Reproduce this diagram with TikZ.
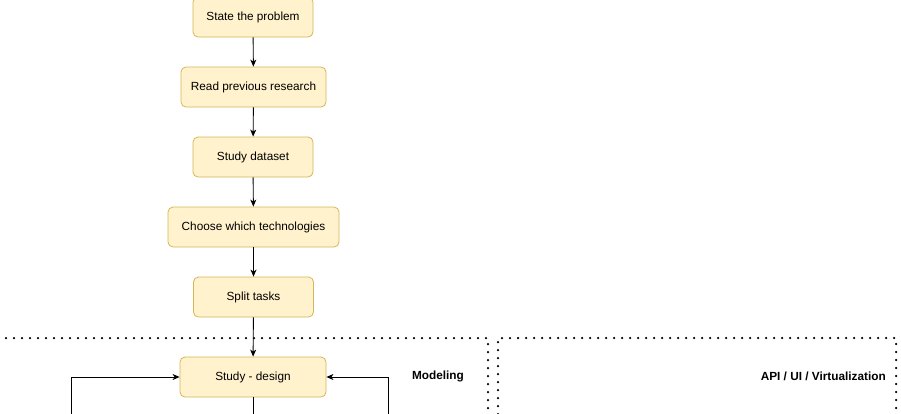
\documentclass[tikz,border=0pt]{standalone}
\usepackage{fontspec}
\setmainfont{Liberation Sans}
\usetikzlibrary{arrows.meta}
\begin{document}
\begin{tikzpicture}[x=1pt,y=-1pt,
  stepbox/.style={draw=boxline,fill=boxfill,rounded corners=5pt,line width=0.8pt,
    minimum height=40pt,inner sep=0pt,font=\fontsize{11.8}{14}\selectfont},
  conn/.style={draw=black,line width=0.9pt,-{Stealth[length=7pt,width=6pt,inset=2pt]}},
  frame/.style={draw=black,line width=2.5pt,line cap=round,dash pattern=on 0pt off 8pt},
  lbl/.style={font=\fontsize{11.8}{14}\selectfont\bfseries,inner sep=0pt}]
\definecolor{boxfill}{HTML}{FFF2CC}
\definecolor{boxline}{HTML}{D6B656}
\path[use as bounding box] (0,0) rectangle (901,413);
\clip (0,0) rectangle (901,413);
\node[stepbox,minimum width=120pt] (s1) at (253,17) {State the problem};
\node[stepbox,minimum width=145pt] (s2) at (253.5,87) {Read previous research};
\node[stepbox,minimum width=120pt] (s3) at (253,157) {Study dataset};
\node[stepbox,minimum width=171pt] (s4) at (253.5,227) {Choose which technologies};
\node[stepbox,minimum width=120pt] (s5) at (253.5,297) {Split tasks};
\node[stepbox,minimum width=146pt] (s6) at (253,377) {Study - design};
\draw[frame] (-10,338) -- (488,338) -- (488,430);
\draw[frame] (498,430) -- (498,338) -- (896,338) -- (896,430);
\node[lbl] (m) at (438,376) {Modeling};
\node[lbl,anchor=east] (a) at (886,376) {API / UI / Virtualization};
\coordinate (lb) at (71,430);
\coordinate (rb) at (388,430);
\coordinate (cb) at (253,430);
\draw[conn] (s1) -- (s2);
\draw[conn] (s2) -- (s3);
\draw[conn] (s3) -- (s4);
\draw[conn] (s4) -- (s5);
\draw[conn] (s5) -- (s6);
\draw[conn] (lb) |- (s6.west);
\draw[conn] (rb) |- (s6.east);
\draw[line width=0.9pt] (s6) -- (cb);
\end{tikzpicture}
\end{document}
